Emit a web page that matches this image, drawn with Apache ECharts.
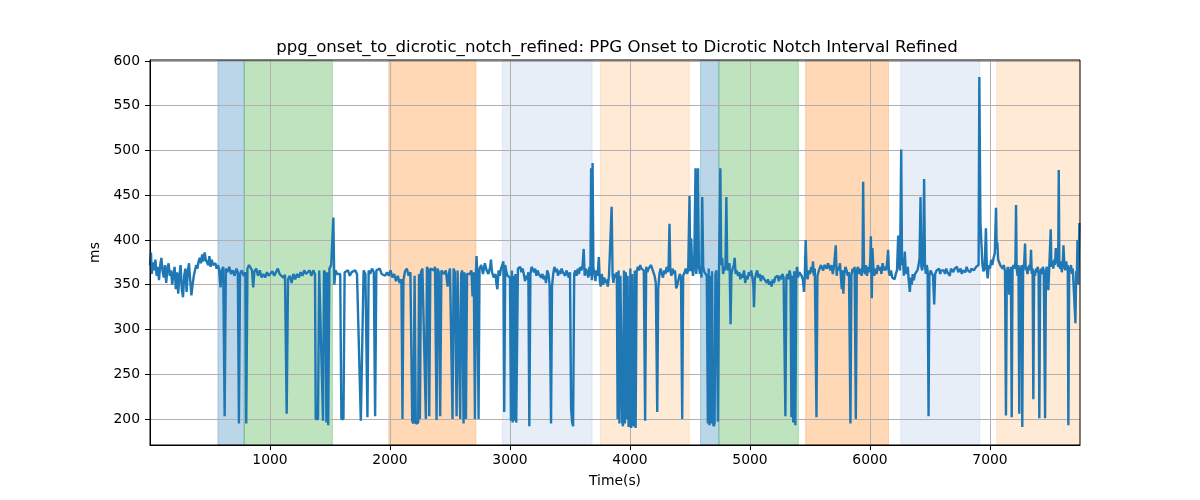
<!DOCTYPE html>
<html>
<head>
<meta charset="utf-8">
<script src="https://cdn.jsdelivr.net/npm/echarts@6/dist/echarts.min.js"></script>
<style>html,body{margin:0;padding:0;background:#fff}#c{width:1200px;height:500px}</style>
</head>
<body>
<div id="c"></div>
<script>
const titleText = 'ppg_onset_to_dicrotic_notch_refined: PPG Onset to Dicrotic Notch Interval Refined';
const xTicks = [1000, 2000, 3000, 4000, 5000, 6000, 7000];
const yTicks = [200, 250, 300, 350, 400, 450, 500, 550, 600];
const bandStarts = [566, 785, 1990, 2936, 3754, 4588, 4741, 5464, 6257, 7056];
const bandEnds   = [785, 1520, 2716, 3684, 4494, 4741, 5403, 6154, 6916, 7750];
const bandColors = ['#1f77b4', '#2ca02c', '#ff7f0e', '#aec7e8', '#ffbb78', '#1f77b4', '#2ca02c', '#ff7f0e', '#aec7e8', '#ffbb78'];
// [time (s), interval (ms)]
const ppgSamples = [
[0,372],[8,386],[15,362],[25,375],[35,366],[45,378],[55,360],[65,370],[75,355],[85,372],[95,380],[105,365],[115,358],[125,372],[135,352],[145,368],[155,374],[165,360],[175,366],[185,350],[195,362],[205,370],[215,345],[225,364],[235,340],[245,360],[255,372],[265,345],[275,336],[285,360],[295,368],[305,342],[315,365],[325,374],[335,355],[345,338],[355,350],[365,360],[375,358],[385,372],[395,368],[405,376],[415,380],[425,374],[435,384],[445,376],[455,386],[465,378],[475,380],[485,372],[495,382],[505,370],[515,378],[525,372],[535,370],[545,374],[555,368],[565,372],
[575,368],[588,347],[598,366],[610,370],[622,203],[632,368],[645,364],[660,370],[675,362],[690,366],[705,360],[720,368],[732,364],[741,195],[750,362],[765,366],[780,360],[795,364],[802,195],[812,368],[825,372],[840,374],[850,366],[860,347],[870,365],[885,368],[900,360],[915,366],[930,358],[945,362],[960,358],[975,364],[990,360],[1005,362],[1020,365],[1035,360],[1050,364],[1065,368],[1080,362],[1095,364],[1110,358],[1125,361],[1139,206],[1150,356],[1165,360],[1180,352],[1195,362],[1210,356],[1225,362],[1240,358],[1255,364],[1270,360],[1285,366],[1300,362],[1315,364],[1330,366],[1345,360],[1360,366],[1375,362],[1381,200],[1390,198],[1400,200],[1410,366],[1425,364],[1442,198],[1450,366],[1462,362],[1470,196],[1478,364],[1485,193],[1495,368],[1510,372],[1520,374],[1528,425],[1536,350],[1545,366],[1560,362],[1575,364],[1585,362],[1595,200],[1603,198],[1612,200],[1622,364],[1635,362],[1650,366],[1665,360],[1680,364],[1695,362],[1710,366],[1725,362],[1740,364],[1757,198],[1763,196],[1770,198],[1780,366],[1795,362],[1812,202],[1822,366],[1835,362],[1850,368],[1865,364],[1876,203],[1886,366],[1900,364],[1915,368],[1930,362],[1945,364],[1960,360],[1975,364],
[1990,360],[2005,366],[2020,358],[2035,362],[2050,354],[2065,360],[2080,352],[2095,356],[2104,200],[2112,355],[2125,365],[2140,368],[2155,360],[2170,364],[2185,198],[2195,195],[2205,360],[2215,195],[2225,193],[2235,196],[2242,362],[2249,200],[2258,364],[2270,368],[2285,366],[2299,200],[2308,370],[2318,366],[2327,203],[2336,368],[2350,370],[2365,366],[2375,370],[2388,199],[2396,368],[2406,364],[2418,203],[2428,366],[2440,364],[2452,362],[2465,366],[2480,348],[2490,362],[2500,368],[2510,366],[2521,200],[2530,368],[2540,364],[2555,203],[2563,366],[2572,364],[2585,200],[2593,362],[2602,366],[2613,195],[2621,364],[2633,200],[2642,362],[2652,364],[2665,362],[2678,366],[2688,337],[2698,364],[2708,200],[2716,362],[2721,382],[2728,360],[2738,200],[2746,368],[2760,372],[2775,362],[2790,374],[2805,366],[2820,362],[2835,370],[2841,378],[2850,364],[2865,358],[2880,362],[2886,352],[2895,345],
[2905,366],[2915,360],[2925,368],[2935,372],[2945,376],[2952,208],[2960,372],[2970,364],[2980,360],[2990,362],[3000,358],[3008,198],[3016,366],[3022,196],[3030,360],[3038,198],[3045,362],[3052,196],[3058,198],[3066,368],[3075,366],[3085,370],[3095,364],[3105,368],[3115,362],[3125,354],[3135,360],[3145,356],[3153,364],[3161,192],[3170,362],[3180,370],[3190,368],[3200,364],[3210,368],[3220,360],[3230,366],[3240,362],[3250,364],[3260,358],[3270,362],[3280,356],[3290,360],[3300,352],[3310,366],[3320,362],[3330,350],[3342,195],[3350,348],[3360,362],[3370,370],[3380,364],[3390,368],[3400,360],[3410,366],[3420,362],[3430,368],[3440,364],[3450,366],[3460,360],[3470,366],[3480,362],[3490,358],[3500,364],[3509,212],[3518,196],[3526,192],[3535,362],[3545,366],[3555,360],[3565,368],[3575,362],[3585,370],[3595,366],[3605,372],[3614,390],[3622,360],[3632,368],[3642,364],[3652,358],[3662,370],[3670,360],[3676,480],[3682,355],[3688,486],[3695,370],[3703,362],[3712,354],[3720,366],[3730,360],[3740,381],[3748,355],[3756,348],[3765,362],[3775,350],[3785,358],[3795,352],[3805,356],[3815,348],[3825,360],[3835,358],[3847,437],[3855,360],
[3862,352],[3870,362],[3880,358],[3890,364],[3897,200],[3905,366],[3912,195],[3920,360],[3928,362],[3935,197],[3942,192],[3950,366],[3958,195],[3965,364],[3972,200],[3980,360],[3988,191],[3995,196],[4003,368],[4010,190],[4018,362],[4025,197],[4032,192],[4040,366],[4047,190],[4055,364],[4065,370],[4075,366],[4085,372],[4095,368],[4105,370],[4115,366],[4126,198],[4135,370],[4145,364],[4155,368],[4165,366],[4175,372],[4185,368],[4195,366],[4205,360],[4215,352],[4227,208],[4235,345],[4245,362],[4255,368],[4265,362],[4275,358],[4285,366],[4295,362],[4305,370],[4315,364],[4322,372],[4329,418],[4336,366],[4345,360],[4355,368],[4365,362],[4375,366],[4385,346],[4395,350],[4405,356],[4415,362],[4425,358],[4435,200],[4443,360],[4455,364],[4465,368],[4475,362],[4485,366],[4496,449],[4502,365],[4510,402],[4518,370],[4525,360],[4535,372],[4546,480],[4552,362],[4560,376],[4567,480],[4574,372],[4582,362],[4590,368],[4596,358],[4602,448],[4610,370],[4620,364],[4630,366],[4640,360],[4649,195],[4656,368],[4662,193],[4670,360],[4677,195],[4684,365],[4691,197],[4698,192],[4705,195],[4712,362],[4720,366],[4733,197],[4742,368],[4753,480],[4760,372],[4768,380],[4776,362],[4785,370],[4795,366],[4803,448],[4810,372],
[4820,366],[4830,374],[4838,306],[4845,362],[4855,368],[4865,372],[4872,380],[4880,362],[4890,366],[4900,360],[4910,364],[4920,356],[4930,362],[4940,358],[4950,366],[4960,352],[4970,360],[4980,356],[4990,364],[5000,360],[5010,366],[5020,358],[5028,350],[5033,325],[5040,356],[5050,362],[5060,366],[5070,358],[5080,362],[5090,354],[5100,360],[5110,362],[5120,356],[5130,358],[5140,352],[5150,356],[5160,350],[5170,354],[5180,348],[5190,356],[5200,352],[5210,358],[5220,356],[5230,360],[5240,354],[5250,360],[5260,356],[5270,362],[5280,358],[5288,360],[5295,203],[5303,358],[5312,362],[5320,356],[5330,366],[5338,360],[5345,202],[5352,360],[5360,196],[5368,365],[5378,193],[5386,362],[5392,370],[5400,358],[5410,364],[5420,366],[5430,360],[5440,356],[5450,342],[5457,360],[5464,400],[5472,362],[5480,356],[5490,366],[5500,362],[5510,370],[5518,364],[5525,376],[5532,360],[5540,368],[5554,202],[5562,360],[5570,364],[5580,368],[5590,372],[5600,370],[5610,366],[5620,372],[5630,370],[5640,368],[5650,374],[5660,370],[5670,366],[5680,372],[5690,362],[5700,370],[5708,372],[5715,394],[5722,360],[5730,370],[5740,366],[5750,374],[5758,358],[5765,345],[5772,366],[5778,340],[5786,362],[5795,370],[5805,366],[5815,360],[5825,364],[5837,195],[5845,360],[5855,368],[5865,364],[5872,370],[5882,200],[5890,366],[5900,370],[5910,362],[5920,368],[5930,360],[5938,372],[5943,465],[5950,366],[5958,362],[5965,372],[5975,360],[5985,370],[5995,364],[6003,380],[6007,404],[6012,360],[6015,335],[6020,391],[6027,372],[6035,360],[6045,368],[6055,362],[6065,372],[6075,366],[6085,370],[6095,362],[6105,374],[6115,366],[6125,370],[6135,366],[6145,378],[6151,389],[6158,364],
[6165,360],[6175,366],[6185,358],[6195,360],[6205,356],[6215,362],[6225,366],[6235,405],[6242,372],[6250,366],[6260,501],[6267,372],[6275,380],[6282,360],[6290,387],[6297,368],[6305,362],[6315,370],[6322,356],[6332,342],[6340,358],[6348,350],[6356,362],[6365,355],[6375,362],[6385,360],[6395,366],[6405,372],[6413,380],[6421,448],[6428,370],[6435,366],[6443,378],[6451,468],[6458,372],[6465,362],[6473,372],[6480,366],[6488,203],[6495,360],[6505,366],[6515,364],[6525,360],[6535,328],[6543,362],[6555,366],[6565,364],[6575,368],[6585,362],[6595,366],[6605,364],[6615,366],[6625,362],[6635,368],[6645,364],[6655,366],[6665,360],[6675,368],[6685,366],[6695,364],[6705,368],[6715,366],[6725,370],[6735,364],[6745,366],[6755,368],[6765,362],[6775,366],[6785,368],[6795,364],[6805,370],[6815,366],[6825,368],[6835,364],[6845,368],[6855,370],[6865,366],[6875,368],[6885,370],[6895,368],[6905,372],[6911,582],[6920,420],[6930,418],[6937,372],[6945,365],[6955,368],[6966,413],[6974,366],[6981,357],[6990,372],[7000,368],[7010,378],[7020,372],[7030,380],[7040,385],[7050,436],[7056,390],[7061,397],[7068,378],[7075,380],[7085,372],[7095,374],[7105,368],[7115,372],[7125,365],[7133,204],[7140,362],[7148,370],[7155,360],[7161,339],[7168,365],[7174,370],[7181,202],[7188,368],[7195,372],[7205,368],[7212,376],[7217,439],[7222,368],[7230,360],[7237,372],[7244,206],[7250,370],[7258,366],[7264,372],[7269,191],[7276,368],[7285,374],[7292,396],[7298,366],[7305,370],[7312,362],[7320,368],[7328,372],[7335,366],[7342,389],[7348,362],[7355,368],[7361,222],[7368,366],[7375,360],[7383,368],[7390,364],[7398,370],[7405,362],[7411,201],[7418,360],[7425,368],[7433,362],[7440,370],[7448,366],[7453,368],[7459,201],[7466,362],[7472,370],[7480,366],[7486,344],[7494,370],[7500,372],[7506,412],[7512,370],[7520,376],[7528,368],[7535,378],[7542,372],[7548,391],[7555,374],[7562,380],[7568,370],[7573,478],[7578,372],[7585,368],[7592,376],[7598,364],[7605,370],[7612,394],[7620,372],[7628,366],[7635,376],[7642,368],[7648,372],[7653,193],[7660,370],[7667,366],[7675,372],[7683,362],[7690,368],[7697,366],[7705,370],[7712,307],[7718,365],[7724,360],[7729,400],[7735,350],[7740,380],[7745,419]
];

const X_MIN = 0, X_MAX = 7750, Y_MIN = 171, Y_MAX = 601;
const FONT = 'DejaVu Sans';
const bandData = bandStarts.map((s, i) => [s, bandEnds[i], i]);

const chart = echarts.init(document.getElementById('c'), null, { renderer: 'canvas' });
chart.setOption({
  animation: false,
  backgroundColor: '#ffffff',
  title: {
    text: titleText, left: 612, top: 34, textAlign: 'center',
    textStyle: { fontFamily: FONT, fontSize: 16.6, fontWeight: 'normal', color: '#000' }
  },
  grid: { left: 150, right: 120, top: 60, bottom: 55, show: false },
  xAxis: {
    type: 'value', min: X_MIN, max: X_MAX,
    name: 'Time(s)', nameLocation: 'middle', nameGap: 29,
    nameTextStyle: { fontFamily: FONT, fontSize: 13.9, color: '#000' },
    axisLine: { show: true, onZero: false, lineStyle: { color: '#000', width: 1 } },
    axisTick: { show: true, length: 5, customValues: xTicks, lineStyle: { color: '#000', width: 1 } },
    axisLabel: { customValues: xTicks, margin: 8, fontFamily: FONT, fontSize: 13.9, color: '#000',
      formatter: v => String(v) },
    splitLine: { show: true, lineStyle: { color: '#b0b0b0', width: 1 } }
  },
  yAxis: {
    type: 'value', min: Y_MIN, max: Y_MAX,
    name: 'ms', nameLocation: 'middle', nameGap: 38,
    nameTextStyle: { fontFamily: FONT, fontSize: 13.9, color: '#000' },
    axisLine: { show: true, onZero: false, lineStyle: { color: '#000', width: 1 } },
    axisTick: { show: true, length: 5, customValues: yTicks, lineStyle: { color: '#000', width: 1 } },
    axisLabel: { customValues: yTicks, margin: 10, fontFamily: FONT, fontSize: 13.9, color: '#000',
      formatter: v => String(v) },
    splitLine: { show: true, lineStyle: { color: '#b0b0b0', width: 1 } }
  },
  series: [
    {
      type: 'custom', z: -1, silent: true, clip: true,
      data: bandData,
      renderItem: function (params, api) {
        const a = api.coord([api.value(0), Y_MAX]);
        const b = api.coord([api.value(1), Y_MIN]);
        const col = bandColors[api.value(2)];
        return {
          type: 'rect',
          shape: { x: a[0], y: a[1], width: b[0] - a[0], height: b[1] - a[1] },
          style: { fill: col, stroke: col, lineWidth: 1, opacity: 0.3 }
        };
      }
    },
    {
      type: 'line', data: ppgSamples, showSymbol: false, symbol: 'none',
      lineStyle: { color: '#1f77b4', width: 2.4 }, z: 3, clip: true
    }
  ]
});
chart.setOption({
  graphic: [{
    type: 'rect', silent: true, z: 10,
    shape: { x: 150, y: 60, width: 930, height: 385 },
    style: { fill: null, stroke: '#000', lineWidth: 1 }
  }]
});
</script>
</body>
</html>
